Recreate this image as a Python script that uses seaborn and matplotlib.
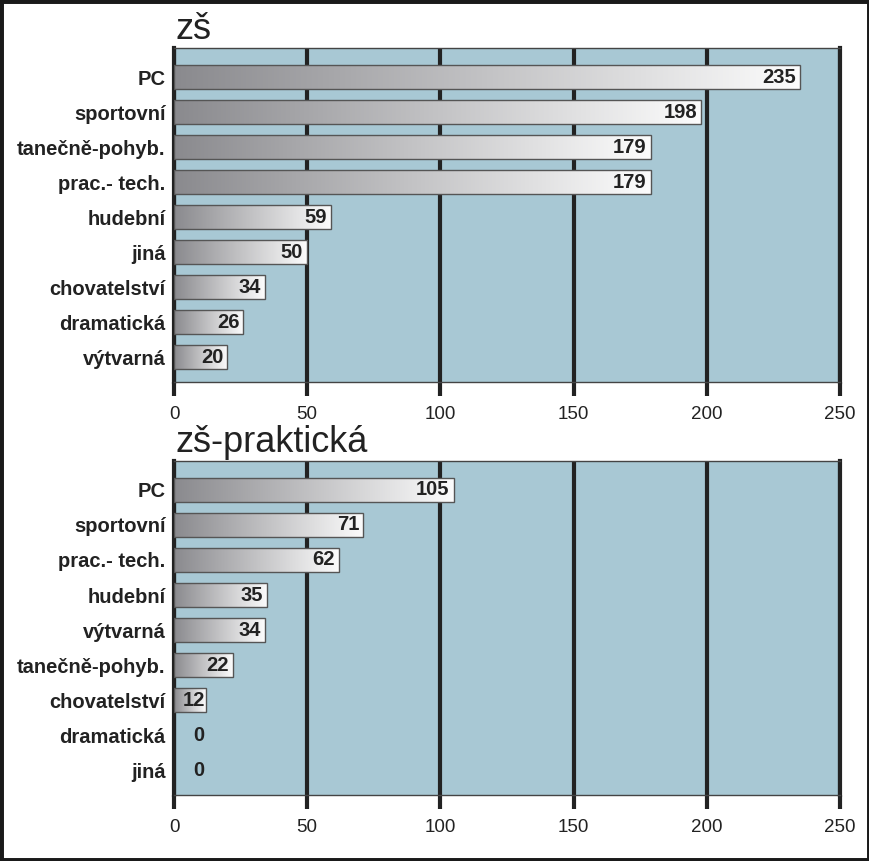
import numpy as np
import pandas as pd
import matplotlib
matplotlib.use("Agg")
import matplotlib.pyplot as plt
from matplotlib.patches import Rectangle
import seaborn as sns

# data
cats_zs = ["PC", "sportovní", "tanečně-pohyb.", "prac.- tech.", "hudební",
           "jiná", "chovatelství", "dramatická", "výtvarná"]
vals_zs = [235, 198, 179, 179, 59, 50, 34, 26, 20]

cats_prak = ["PC", "sportovní", "prac.- tech.", "hudební", "výtvarná",
             "tanečně-pohyb.", "chovatelství", "dramatická", "jiná"]
vals_prak = [105, 71, 62, 35, 34, 22, 12, 0, 0]

titles = ["zš", "zš-praktická"]
xticks = [0, 50, 100, 150, 200, 250]

sns.set_style("white")
plt.rcParams['font.family'] = ['Liberation Sans', 'DejaVu Sans']

bg = "#a8c8d4"
dark = "#222222"

fig = plt.figure(figsize=(8.7, 8.61), dpi=100)
ax1 = fig.add_axes([0.2, 0.5563, 0.7655, 0.388])
ax2 = fig.add_axes([0.2, 0.0767, 0.7655, 0.388])

# gradient: dark grey on the left to white at the bar end
grad_cols = np.array([[138, 138, 142], [252, 252, 252]]) / 255.0
t = np.linspace(0, 1, 256)[:, None]
grad = (grad_cols[0] * (1 - t) + grad_cols[1] * t)[None, :, :]


def draw_panel(ax, cats, vals, title):
    df = pd.DataFrame({"cat": cats, "val": vals})
    sns.barplot(data=df, x="val", y="cat", orient="h", ax=ax, width=0.7,
                color="white", edgecolor="#555555", linewidth=1, zorder=3)
    ax.set_facecolor(bg)
    for p in ax.patches:
        x0, y0 = p.get_x(), p.get_y()
        w, h = p.get_width(), p.get_height()
        if w <= 0:
            p.set_visible(False)
            continue
        im = ax.imshow(grad, extent=(x0, x0 + w, y0 + h, y0), aspect="auto",
                       interpolation="bilinear", zorder=3)
        im.set_clip_path(p)
        p.set_facecolor("none")
        p.set_zorder(4)
    for i, v in enumerate(vals):
        ax.text(max(v, 13) - 1.5, i, str(v), ha="right", va="center",
                fontsize=14.5, fontweight="bold", color=dark, zorder=5)

    ax.set_xlim(0, 250)
    ax.set_ylim(8.71, -0.83)
    ax.set_xticks(xticks)
    ax.grid(axis="x", color=dark, linewidth=3)
    ax.grid(axis="y", visible=False)
    ax.set_axisbelow(True)
    ax.set_xlabel("")
    ax.set_ylabel("")
    ax.tick_params(axis="x", bottom=True, length=10, width=3, color=dark,
                   labelsize=13.5, labelcolor=dark, pad=7)
    ax.tick_params(axis="y", left=False, length=0, pad=6)
    for lab in ax.get_yticklabels():
        lab.set_fontweight("bold")
        lab.set_fontsize(14.5)
        lab.set_color(dark)
    for s in ["left", "right"]:
        ax.spines[s].set_color(dark)
        ax.spines[s].set_linewidth(3)
    for s in ["top", "bottom"]:
        ax.spines[s].set_color("#444444")
        ax.spines[s].set_linewidth(1)
    ax.text(0.003, 1.003, title, transform=ax.transAxes, ha="left",
            va="bottom", fontsize=26, color=dark)


draw_panel(ax1, cats_zs, vals_zs, titles[0])
draw_panel(ax2, cats_prak, vals_prak, titles[1])

fig.patches.append(Rectangle((0, 0), 1, 1, transform=fig.transFigure,
                             fill=False, edgecolor="#1a1a1a", linewidth=5))

fig.savefig("out.png", dpi=100, facecolor="white")
